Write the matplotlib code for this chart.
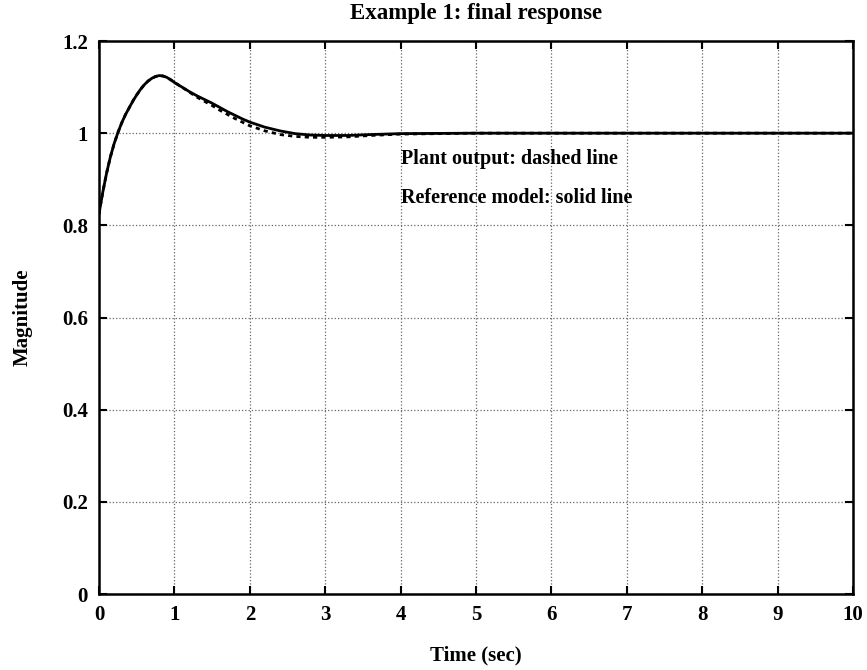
import matplotlib
matplotlib.use("Agg")
import matplotlib.pyplot as plt

# time samples (sec)
time_sec = [0, 0.05, 0.1, 0.15, 0.2, 0.25, 0.3, 0.35, 0.4, 0.45, 0.5, 0.55,
            0.6, 0.65, 0.7, 0.75, 0.8, 0.85, 0.9, 0.95, 1.0, 1.1, 1.2, 1.3,
            1.4, 1.5, 1.6, 1.7, 1.8, 1.9, 2.0, 2.2, 2.4, 2.6, 2.8, 3.0, 3.3,
            3.6, 4.0, 5, 6, 7, 8, 9, 10]

# reference model (solid)
ref_model = [0.825, 0.872, 0.913, 0.948, 0.977, 1.001, 1.022, 1.040, 1.055,
             1.070, 1.083, 1.095, 1.105, 1.113, 1.119, 1.123, 1.125, 1.124,
             1.121, 1.116, 1.110, 1.100, 1.090, 1.081, 1.073, 1.065, 1.056,
             1.047, 1.039, 1.031, 1.024, 1.013, 1.005, 0.999, 0.996, 0.995,
             0.995, 0.997, 0.999, 1.0, 1.0, 1.0, 1.0, 1.0, 1.0]

# plant output (dashed)
plant_out = [0.825, 0.872, 0.913, 0.948, 0.977, 1.001, 1.022, 1.040, 1.055,
             1.070, 1.083, 1.095, 1.105, 1.113, 1.119, 1.123, 1.125, 1.124,
             1.121, 1.116, 1.110, 1.100, 1.089, 1.078, 1.069, 1.060, 1.050,
             1.041, 1.032, 1.024, 1.016, 1.005, 0.997, 0.993, 0.991, 0.991,
             0.992, 0.995, 0.998, 1.0, 1.0, 1.0, 1.0, 1.0, 1.0]

x_ticks = [0, 1, 2, 3, 4, 5, 6, 7, 8, 9, 10]
y_ticks = [0, 0.2, 0.4, 0.6, 0.8, 1.0, 1.2]
y_tick_labels = ['0', '0.2', '0.4', '0.6', '0.8', '1', '1.2']

plt.rcParams['font.family'] = ['Liberation Serif', 'DejaVu Serif']
plt.rcParams['font.weight'] = 'bold'

fig = plt.figure(figsize=(8.67, 6.70), dpi=100)
ax = fig.add_axes([0.1142, 0.1134, 0.8697, 0.8254])

ax.plot(time_sec, ref_model, color='black', linewidth=2.0, linestyle='-')
ax.plot(time_sec, plant_out, color='black', linewidth=2.0, linestyle=(0, (1.5, 1.5)))

ax.set_xlim(0, 10)
ax.set_ylim(0, 1.2)
ax.set_xticks(x_ticks)
ax.set_yticks(y_ticks)
ax.set_yticklabels(y_tick_labels)
ax.tick_params(direction='in', length=6, width=1.5, top=True, right=True,
               labelsize=15, pad=8)
for lbl in ax.get_xticklabels() + ax.get_yticklabels():
    lbl.set_fontweight('bold')

ax.grid(True, linestyle=':', linewidth=0.9, color='#666666')
for s in ax.spines.values():
    s.set_linewidth(1.8)

ax.text(4.0, 0.944, 'Plant output: dashed line', fontsize=14.5,
        fontweight='bold', va='center', ha='left')
ax.text(4.0, 0.859, 'Reference model: solid line', fontsize=14.5,
        fontweight='bold', va='center', ha='left')

ax.set_title('Example 1: final response', fontsize=16.5, fontweight='bold', pad=16)
ax.set_xlabel('Time (sec)', fontsize=15, fontweight='bold', labelpad=15)
ax.set_ylabel('Magnitude', fontsize=15, fontweight='bold', labelpad=21)

fig.savefig('out.png', dpi=100)
